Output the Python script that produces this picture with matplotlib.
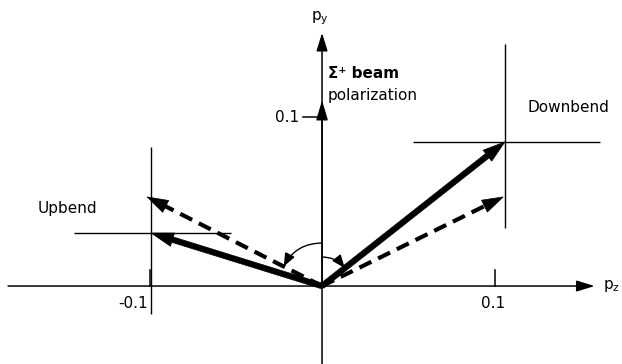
import numpy as np
import matplotlib
matplotlib.use("Agg")
import matplotlib.pyplot as plt

plt.rcParams['font.family'] = ['DejaVu Sans']

# polarization vectors (pz, py)
beam = (0.0, 0.110)
labels = ['Downbend', 'Upbend']
measured = [(0.106, 0.0854), (-0.099, 0.0314)]      # solid arrows
expected = [(0.105, 0.0528), (-0.1014, 0.0528)]     # dashed arrows
# error crosshairs: (left, right), (down, up)
err_z = [(0.053, 0.055), (0.045, 0.046)]
err_y = [(0.051, 0.058), (0.048, 0.051)]
xticks = [-0.1, 0.1]
yticks = [0.1]

fig = plt.figure(figsize=(6.22, 3.64), dpi=100)
ax = fig.add_axes([0, 0, 1, 1])
ax.set_xlim(-0.1867, 0.1739)
ax.set_ylim(-0.0462, 0.1695)
ax.axis('off')
fig.canvas.draw()

fs = 11

# axes with arrow heads
ax.annotate('', xy=(0.158, 0), xytext=(-0.182, 0),
            arrowprops=dict(arrowstyle='-|>,head_length=0.55,head_width=0.17',
                            mutation_scale=20, lw=1.1, color='k',
                            shrinkA=0, shrinkB=0))
ax.annotate('', xy=(0, 0.150), xytext=(0, -0.0462),
            arrowprops=dict(arrowstyle='-|>,head_length=0.55,head_width=0.17',
                            mutation_scale=20, lw=1.1, color='k',
                            shrinkA=0, shrinkB=0))
ax.text(0.163, 0, 'p$_\\mathregular{z}$', fontsize=fs, va='center', ha='left')
ax.text(-0.001, 0.159, 'p$_\\mathregular{y}$', fontsize=fs, va='center', ha='center')

# ticks
for xt in xticks:
    ax.plot([xt, xt], [0, 0.0095], color='k', lw=1.1)
ax.text(xticks[0] - 0.0008, -0.0101, '-0.1', fontsize=fs, ha='right', va='center')
ax.text(xticks[1] - 0.001, -0.0101, '0.1', fontsize=fs, ha='center', va='center')
for yt in yticks:
    ax.plot([-0.011, 0], [yt, yt], color='k', lw=1.1)
    ax.text(-0.0135, yt, '0.1', fontsize=fs, ha='right', va='center')

# beam polarization arrow
ax.annotate('', xy=beam, xytext=(0, 0),
            arrowprops=dict(arrowstyle='-|>,head_length=0.6,head_width=0.18',
                            mutation_scale=20, lw=1.1, color='k',
                            shrinkA=0, shrinkB=0))
ax.text(0.0035, 0.126, '\u03a3\u207a beam', fontsize=fs, fontweight='bold',
        ha='left', va='center')
ax.text(0.0035, 0.113, 'polarization', fontsize=fs, ha='left', va='center')

# error crosshairs
for (cx, cy), ez, ey in zip(measured, err_z, err_y):
    ax.errorbar([cx], [cy], xerr=[[ez[0]], [ez[1]]], yerr=[[ey[0]], [ey[1]]],
                fmt='none', ecolor='k', elinewidth=1.0, capsize=0)

ax.text(0.119, 0.106, labels[0], fontsize=fs, ha='left', va='center')
ax.text(-0.165, 0.046, labels[1], fontsize=fs, ha='left', va='center')


def point_back(tip, px):
    t = ax.transData.transform(tip)
    o = ax.transData.transform((0, 0))
    d = np.hypot(*(t - o))
    f = 1 - px / d
    return (tip[0] * f, tip[1] * f)


# measured (solid) arrows
for tip in measured:
    ax.annotate('', xy=tip, xytext=(0, 0),
                arrowprops=dict(arrowstyle='simple,head_length=1.6,head_width=1.0,tail_width=0.4',
                                mutation_scale=10, fc='k', ec='k', lw=0.5,
                                shrinkA=0, shrinkB=0))

# expected (dashed) arrows
for tip in expected:
    base = point_back(tip, 18)
    ax.plot([0, base[0]], [0, base[1]], color='k', lw=3.0,
            linestyle=(0, (3.2, 1.8)), dash_capstyle='butt', solid_capstyle='butt')
    ax.annotate('', xy=tip, xytext=point_back(tip, 21),
                arrowprops=dict(arrowstyle='simple,head_length=1.5,head_width=0.95,tail_width=0.3',
                                mutation_scale=10, fc='k', ec='k', lw=0.5,
                                shrinkA=0, shrinkB=0))


# angle arcs from the beam direction
def arc_arrow(r_px, ang_deg, rad):
    o = ax.transData.transform((0, 0))
    inv = ax.transData.inverted()
    start = inv.transform(o + np.array([0, r_px]))
    a = np.deg2rad(ang_deg)
    end = inv.transform(o + r_px * np.array([np.cos(a), np.sin(a)]))
    ax.annotate('', xy=end, xytext=start,
                arrowprops=dict(arrowstyle='-|>,head_length=0.5,head_width=0.2',
                                mutation_scale=16, lw=1.0, color='k',
                                connectionstyle='arc3,rad=%.3f' % rad,
                                shrinkA=0, shrinkB=0))


ang_up = np.degrees(np.arctan2(0.0528 * 1687, -0.1014 * 1725))
ang_dn = np.degrees(np.arctan2(0.0854 * 1687, 0.106 * 1725))
arc_arrow(43, ang_up, 0.30)
arc_arrow(29, ang_dn, -0.24)

fig.savefig('out.png', dpi=100)
